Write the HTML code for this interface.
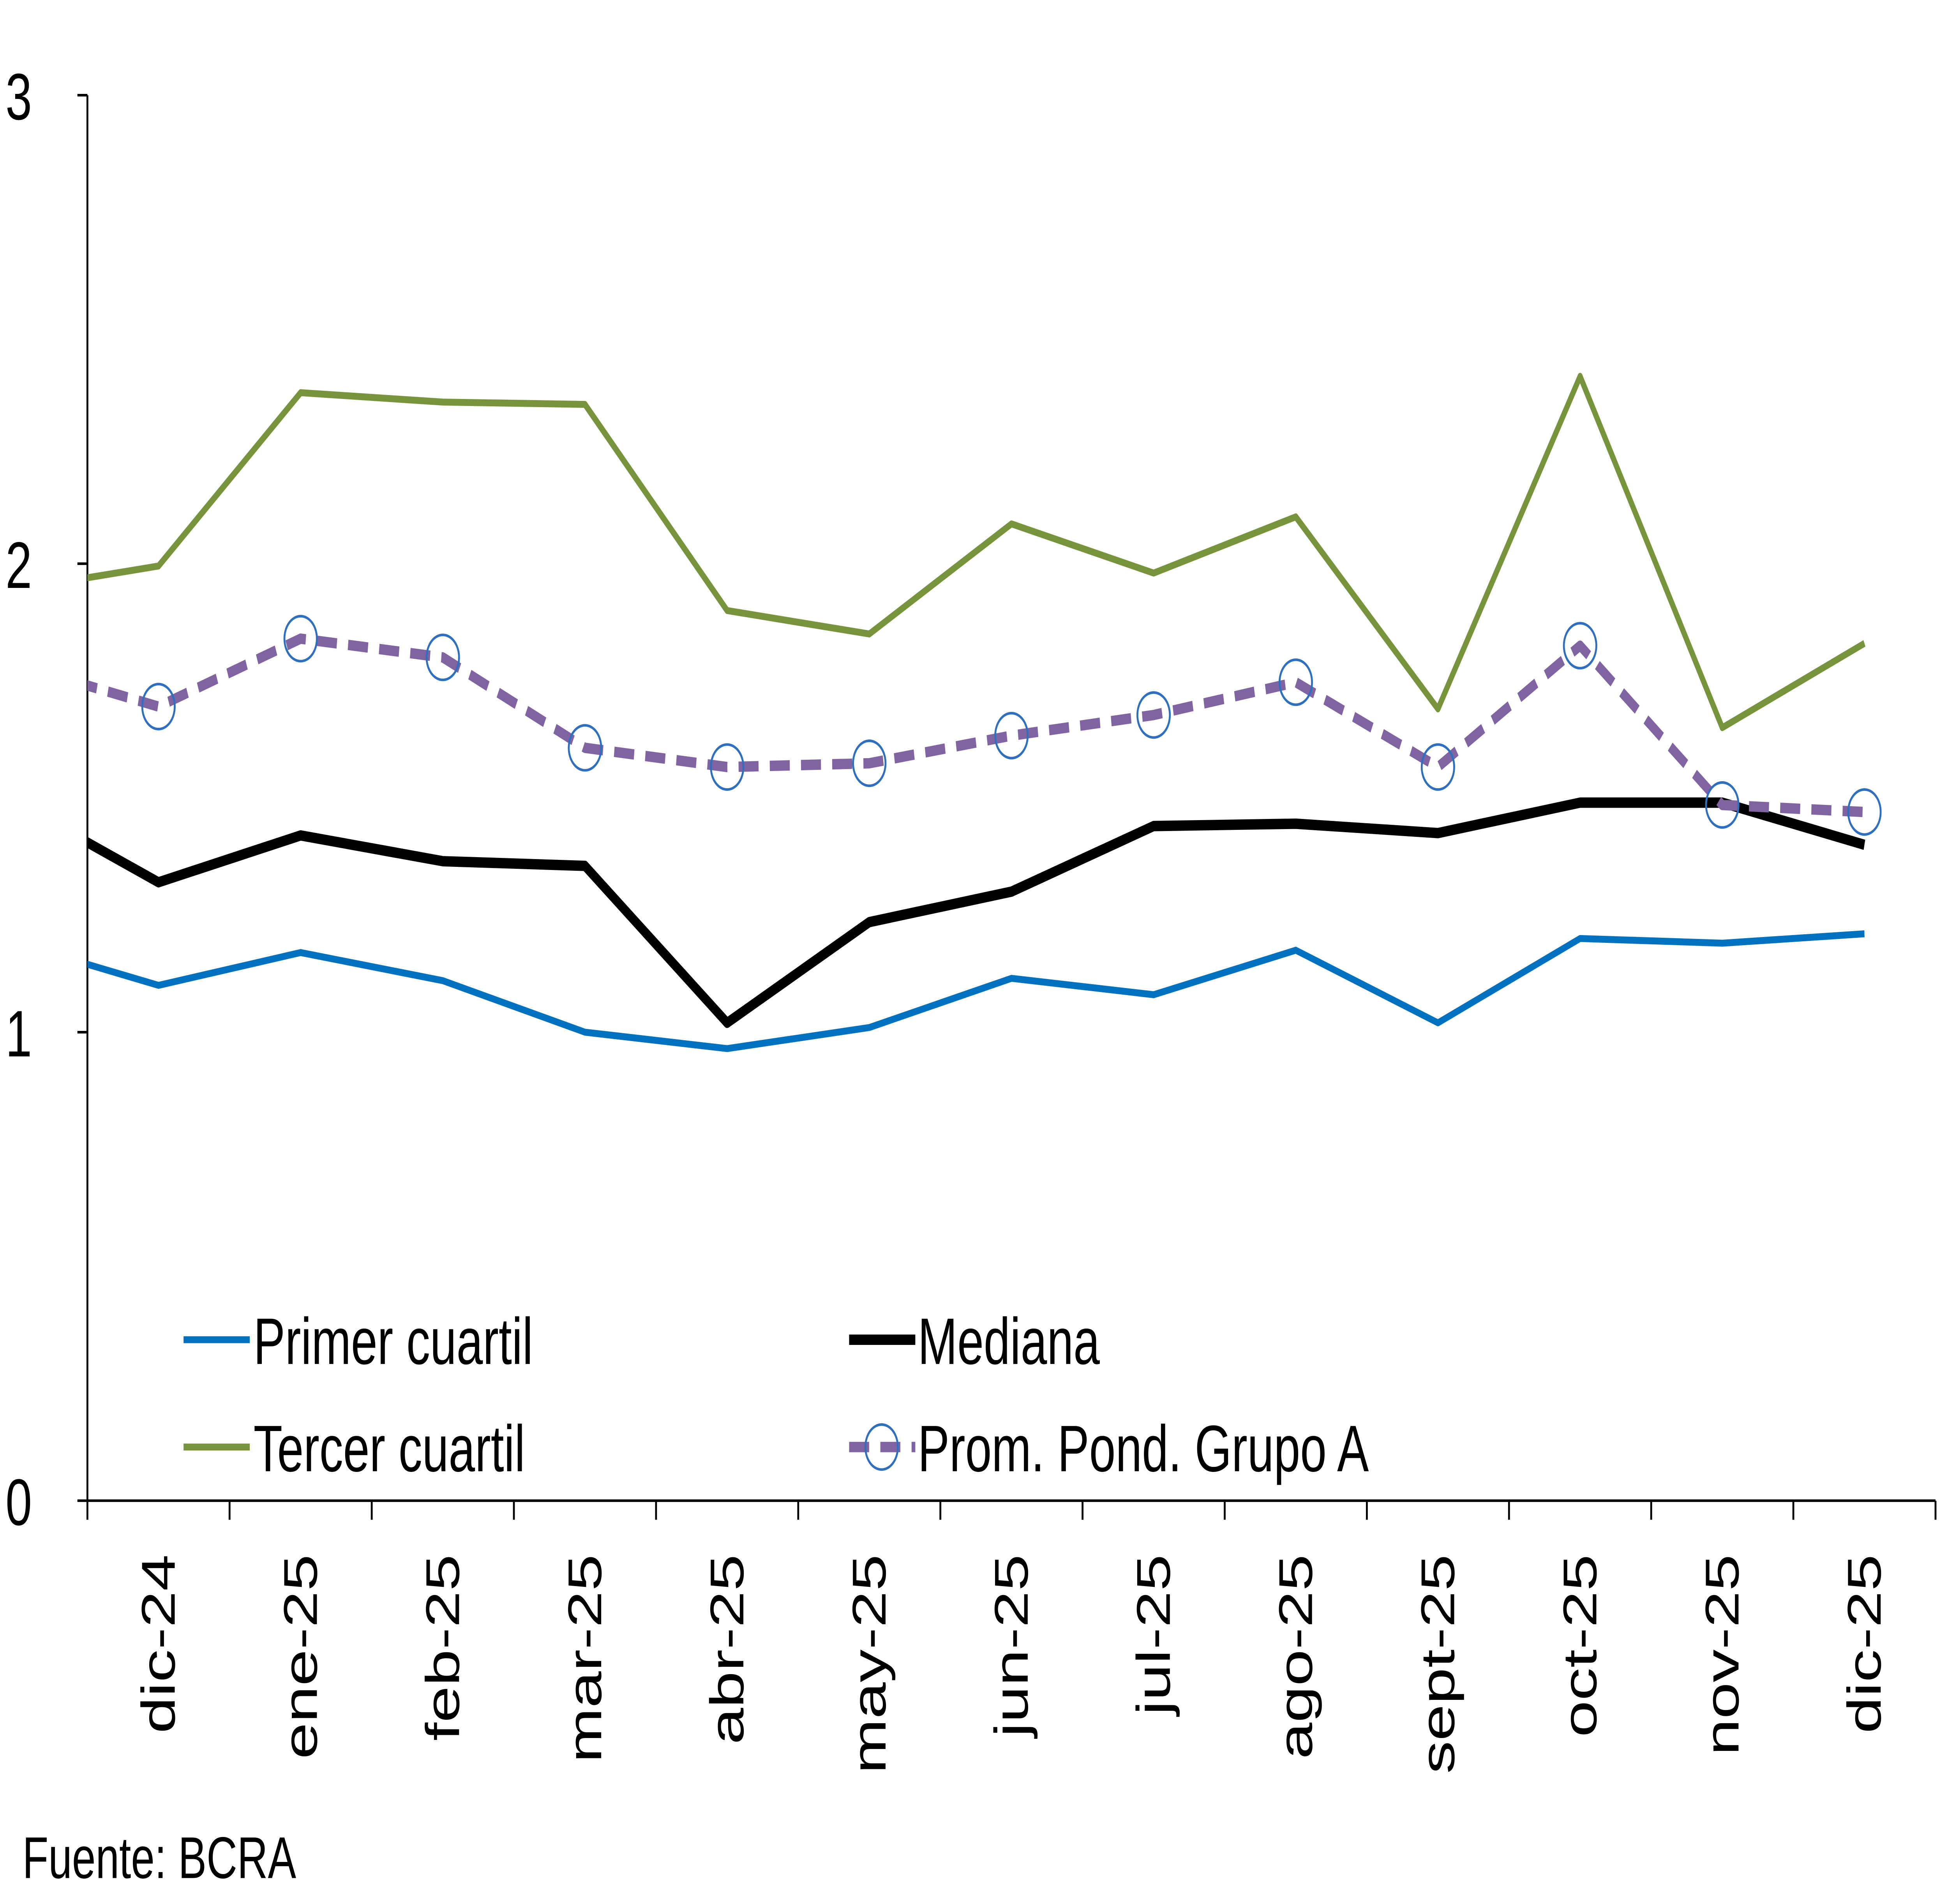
<!DOCTYPE html>
<html><head><meta charset="utf-8">
<style>
html,body{margin:0;padding:0;background:#fff;width:100%;height:100%;overflow:hidden;}
svg{display:block;width:100vw;height:100vh;}
text{font-family:"Liberation Sans",Arial,sans-serif;fill:#000;}
</style></head>
<body>
<svg id="chart" viewBox="0 0 1560 1100" preserveAspectRatio="none" xmlns="http://www.w3.org/2000/svg">
<defs><clipPath id="plotClip"><rect x="70" y="0" width="1490" height="900"/></clipPath></defs>
<g id="axes"></g>
<g id="series" clip-path="url(#plotClip)"></g>
<g id="markers"></g>
<g id="legend">
  <line x1="147" y1="774" x2="200" y2="774" stroke="#0070c0" stroke-width="4"/>
  <text x="203" y="788" font-size="38">Primer cuartil</text>
  <line x1="680" y1="774" x2="733" y2="774" stroke="#000" stroke-width="6"/>
  <text x="735" y="788" font-size="38">Mediana</text>
  <line x1="147" y1="836" x2="200" y2="836" stroke="#77933c" stroke-width="4"/>
  <text x="203" y="850" font-size="38">Tercer cuartil</text>
  <line x1="680" y1="836" x2="733" y2="836" stroke="#8064a2" stroke-width="6" stroke-dasharray="16,9"/>
  <circle cx="706" cy="836" r="13" fill="none" stroke="#2f6fbf" stroke-width="1.5"/>
  <text x="735" y="850" font-size="38">Prom. Pond. Grupo A</text>
</g>
<text x="18" y="1085" font-size="34">Fuente: BCRA</text>
</svg>
<script>
const categories = ["dic-24","ene-25","feb-25","mar-25","abr-25","may-25","jun-25","jul-25","ago-25","sept-25","oct-25","nov-25","dic-25"];
// first value = prior month (nov-24), partly visible at the left edge
const primer = [1.19, 1.10, 1.17, 1.11, 1.00, 0.965, 1.01, 1.115, 1.08, 1.175, 1.02, 1.20, 1.19, 1.21];
const tercer = [1.945, 1.995, 2.365, 2.345, 2.34, 1.90, 1.85, 2.085, 1.98, 2.10, 1.69, 2.40, 1.65, 1.83];
const mediana = [1.49, 1.32, 1.42, 1.365, 1.355, 1.02, 1.235, 1.30, 1.44, 1.445, 1.425, 1.49, 1.49, 1.40];
const prom = [1.785, 1.695, 1.84, 1.80, 1.607, 1.566, 1.574, 1.633, 1.677, 1.747, 1.566, 1.825, 1.485, 1.47];
const yTicks = [0, 1, 2, 3];

const NS = "http://www.w3.org/2000/svg";
const X0 = 70, X1 = 1550, Y0 = 867, Y3 = 55;
const step = (X1 - X0) / categories.length;
function xPos(i){ return X0 + step * (i + 0.5); }
function yPos(v){ return Y0 - (Y0 - Y3) * v / 3; }
function mk(tag, attrs, parent){ const e = document.createElementNS(NS, tag); for (const k in attrs) e.setAttribute(k, attrs[k]); parent.appendChild(e); return e; }

const axes = document.getElementById('axes');
let l = mk('line', {x1:X0, y1:Y3, x2:X0, y2:Y0, stroke:'#000', 'stroke-width':1.5}, axes);


l = mk('line', {x1:X0, y1:Y0, x2:X1, y2:Y0, stroke:'#000', 'stroke-width':1.5}, axes);


yTicks.forEach(v => {
  const y = yPos(v);
  const t = mk('line', {x1:X0-8, y1:y, x2:X0, y2:y, stroke:'#000', 'stroke-width':1.5}, axes);
  
  
  const tx = mk('text', {x:15, y:y+14, 'font-size':38, 'text-anchor':'middle'}, axes);
  tx.textContent = v;
  
  
});
for (let i = 0; i <= categories.length; i++) {
  const x = X0 + step * i;
  const t = mk('line', {x1:x, y1:Y0, x2:x, y2:Y0+11, stroke:'#000', 'stroke-width':1.5}, axes);
  
  
}
categories.forEach((c, i) => {
  const x = xPos(i) + 13, y = 898;
  const tx = mk('text', {x:x, y:y, 'font-size':38, 'text-anchor':'end', transform:`rotate(-90 ${x} ${y})`}, axes);
  tx.textContent = c;
  
  
});

const sg = document.getElementById('series');
function drawLine(vals, color, w, dash, name){
  const pts = vals.map((v, k) => xPos(k-1).toFixed(2) + ',' + yPos(v).toFixed(2)).join(' ');
  const p = mk('polyline', {points:pts, fill:'none', stroke:color, 'stroke-width':w, 'stroke-linejoin':'round'}, sg);
  if (dash) p.setAttribute('stroke-dasharray', dash);
  
  
}
drawLine(primer, '#0070c0', 4, null, 'primer-cuartil-line');
drawLine(tercer, '#77933c', 4, null, 'tercer-cuartil-line');
drawLine(mediana, '#000', 6, null, 'mediana-line');
drawLine(prom, '#8064a2', 6, '16,9', 'prom-pond-line');

const mg = document.getElementById('markers');
prom.forEach((v, k) => {
  if (k === 0) return;
  const c = mk('circle', {cx:xPos(k-1), cy:yPos(v), r:13, fill:'none', stroke:'#2f6fbf', 'stroke-width':1.5}, mg);
  
  
});
</script>
</body></html>
